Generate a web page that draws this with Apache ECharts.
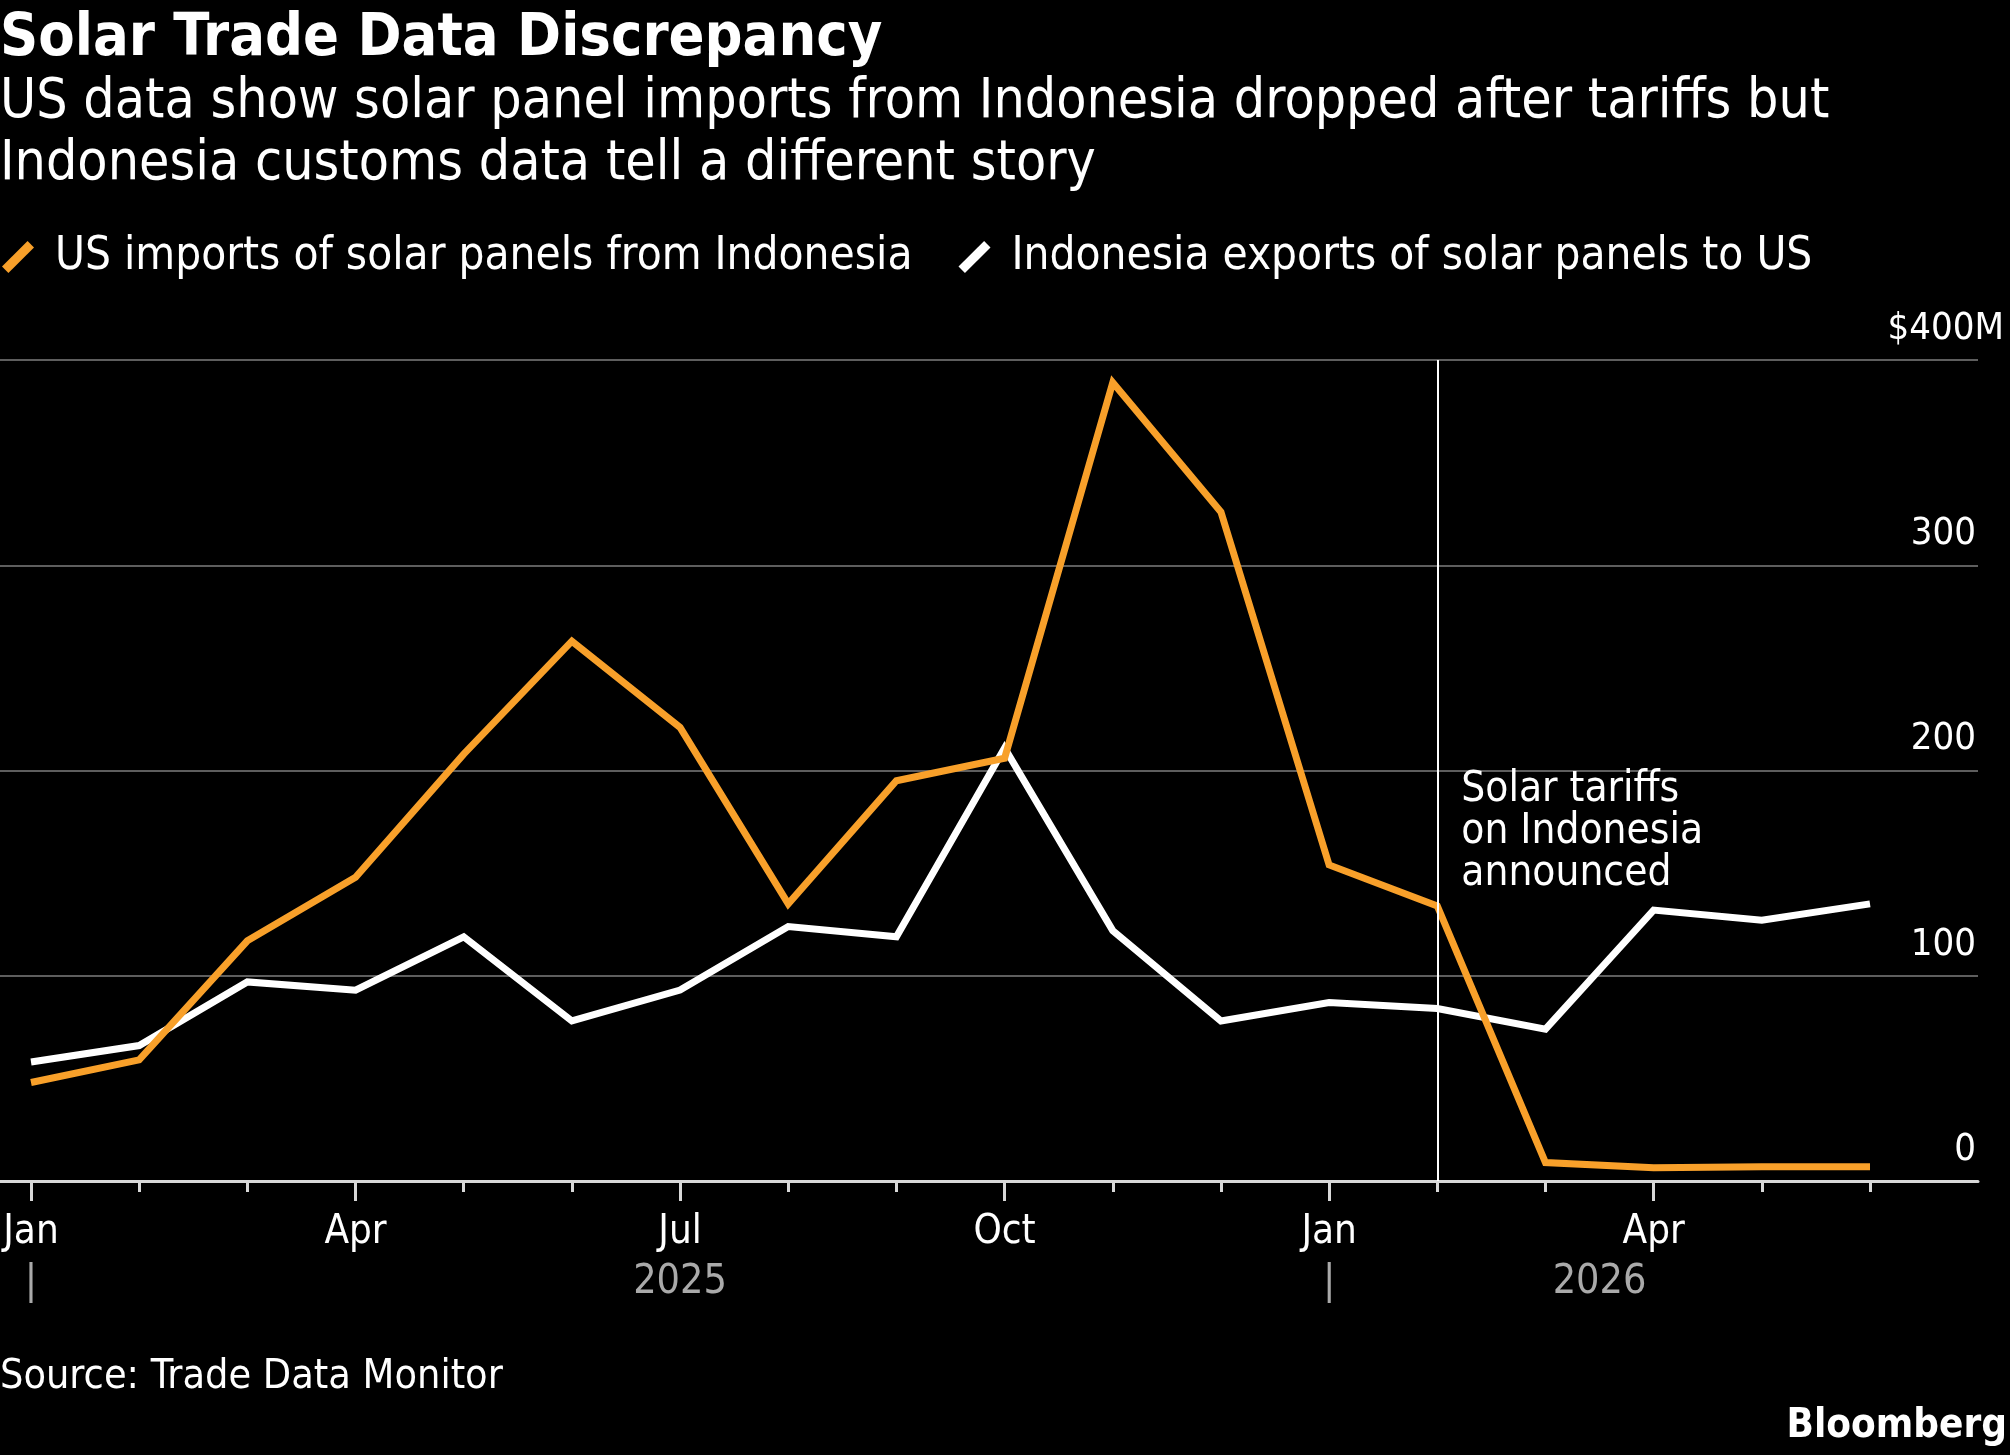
<!DOCTYPE html>
<html>
<head>
<meta charset="utf-8">
<script src="https://cdn.jsdelivr.net/npm/echarts@6/dist/echarts.min.js"></script>
<style>
  html, body { margin: 0; padding: 0; background: #000; }
  #chart { width: 2010px; height: 1455px; }
</style>
</head>
<body>
<div id="chart"></div>
<script>
// monthly data, Jan 2025 - Jun 2026 ($M)
const months = [
  '2025-01', '2025-02', '2025-03', '2025-04', '2025-05', '2025-06',
  '2025-07', '2025-08', '2025-09', '2025-10', '2025-11', '2025-12',
  '2026-01', '2026-02', '2026-03', '2026-04', '2026-05', '2026-06'
];
const usImports = [48, 59, 117, 148, 208, 263, 221, 135, 195, 206, 389, 326, 154, 134, 9, 6.5, 7, 7];
const idExports = [58, 66, 97, 93, 119, 78, 93, 124, 119, 211, 122, 78, 87, 84, 74, 132, 127, 135];

const monthNames = ['Jan', 'Feb', 'Mar', 'Apr', 'May', 'Jun', 'Jul', 'Aug', 'Sep', 'Oct', 'Nov', 'Dec'];
const quarterLabels = ['Jan', 'Apr', 'Jul', 'Oct'];
// second row under the month labels, keyed by position on the month index
const yearLabels = { 0: '|', 6: '2025', 12: '|', 14.5: '2026' };
const yTicks = [0, 100, 200, 300, 400];

const tariffMonth = '2026-02';
const tariffNote = 'Solar tariffs\non Indonesia\nannounced';
const tariffNoteY = 170;

const FONT = 'DejaVu Sans Condensed';
const ORANGE = '#f8a02a';
const WHITE = '#ffffff';

const chart = echarts.init(document.getElementById('chart'));

const slash = 'path://M2,26 L26,2 L32,8 L8,32 Z';

const option = {
  backgroundColor: '#000',
  animation: false,
  textStyle: { fontFamily: FONT },
  title: [
    {
      text: 'Solar Trade Data Discrepancy',
      left: 0, top: 10, padding: 0,
      textStyle: { color: '#fff', fontFamily: FONT, fontWeight: 'bold', fontSize: 59 }
    },
    {
      text: 'US data show solar panel imports from Indonesia dropped after tariffs but\nIndonesia customs data tell a different story',
      left: 0, top: 72, padding: 0,
      textStyle: { color: '#fff', fontFamily: FONT, fontWeight: 'normal', fontSize: 55, lineHeight: 62 }
    },
    {
      text: 'Source: Trade Data Monitor',
      left: 0, top: 1357, padding: 0,
      textStyle: { color: '#fff', fontFamily: FONT, fontWeight: 'normal', fontSize: 41 }
    },
    {
      text: 'Bloomberg',
      right: 3, top: 1407, padding: 0,
      textStyle: { color: '#fff', fontFamily: FONT, fontWeight: 'bold', fontSize: 40 }
    }
  ],
  legend: {
    left: 2, top: 234, padding: 0,
    itemWidth: 32, itemHeight: 32, itemGap: 46,
    data: [
      { name: 'US imports of solar panels from Indonesia', icon: slash },
      { name: 'Indonesia exports of solar panels to US', icon: slash }
    ],
    textStyle: { color: '#fff', fontFamily: FONT, fontSize: 45.5, lineHeight: 46, padding: [0, 0, 0, 16] }
  },
  grid: [
    // full-width backdrop for gridlines, y labels and baseline
    { left: 0, right: 32, top: 360, bottom: 274, containLabel: false },
    // data area: Jan 2025 .. Jun 2026
    { left: 31, right: 140, top: 360, bottom: 274, containLabel: false }
  ],
  xAxis: [
    {
      gridIndex: 0, type: 'value', min: 0, max: 1, position: 'bottom',
      axisLine: { show: true, lineStyle: { color: '#d8d8d8', width: 3 } },
      axisTick: { show: false }, axisLabel: { show: false }, splitLine: { show: false }
    },
    {
      gridIndex: 1, type: 'category', data: months, boundaryGap: false, position: 'bottom', offset: 0,
      axisLine: { show: false },
      axisTick: { show: true, interval: 0, length: 11, lineStyle: { color: '#d8d8d8', width: 3 } },
      axisLabel: {
        interval: 0, margin: 32, color: '#fff', fontFamily: FONT, fontSize: 40,
        formatter: function (v) {
          const m = monthNames[parseInt(v.slice(5), 10) - 1];
          return quarterLabels.indexOf(m) >= 0 ? m : '';
        }
      },
      splitLine: { show: false }
    },
    {
      gridIndex: 1, type: 'category', data: months, boundaryGap: false, position: 'bottom', offset: 0,
      axisLine: { show: false },
      axisTick: {
        show: true, length: 20, lineStyle: { color: '#d8d8d8', width: 3 },
        interval: function (i) { return i % 3 === 0; }
      },
      axisLabel: { show: false }, splitLine: { show: false }
    },
    {
      gridIndex: 1, type: 'value', min: 0, max: months.length - 1, interval: 0.5,
      position: 'bottom', offset: 0,
      axisLine: { show: false }, axisTick: { show: false }, splitLine: { show: false },
      axisLabel: {
        margin: 81, color: '#aaaaaa', fontFamily: FONT, fontSize: 41,
        showMinLabel: true, showMaxLabel: true,
        formatter: function (v) { return yearLabels[v] !== undefined ? yearLabels[v] : ''; }
      }
    }
  ],
  yAxis: [
    {
      gridIndex: 0, type: 'value', position: 'right', min: 0, max: 400, interval: 100,
      axisLine: { show: false }, axisTick: { show: false },
      splitLine: { show: true, lineStyle: { color: '#5e5e5e', width: 2 } },
      axisLabel: {
        inside: true, margin: 2, color: '#fff', fontFamily: FONT, fontSize: 38,
        verticalAlign: 'bottom', padding: [0, 0, 12, 0],
        formatter: function (v) {
          if (yTicks.indexOf(v) < 0) return '';
          // the unit hangs past the right edge of the numbers
          return v === 400 ? '{top|$400M}' : String(v);
        },
        rich: {
          top: { color: '#fff', fontFamily: FONT, fontSize: 38, padding: [0, -28, 0, 0] }
        }
      }
    },
    {
      gridIndex: 1, type: 'value', min: 0, max: 400, interval: 100, show: false,
      splitLine: { show: false }
    }
  ],
  series: [
    {
      name: 'US imports of solar panels from Indonesia',
      type: 'line', xAxisIndex: 1, yAxisIndex: 1, z: 4,
      data: usImports, symbol: 'none',
      lineStyle: { color: ORANGE, width: 7, join: 'miter' },
      itemStyle: { color: ORANGE },
      markLine: {
        silent: true, symbol: 'none',
        lineStyle: { color: '#fff', width: 2, type: 'solid' },
        label: { show: false },
        data: [{ xAxis: tariffMonth }]
      },
      markPoint: {
        silent: true, symbol: 'circle', symbolSize: 0,
        label: {
          show: true, position: 'right', distance: 24,
          color: '#fff', fontFamily: FONT, fontSize: 42, lineHeight: 42, align: 'left',
          formatter: tariffNote
        },
        data: [{ coord: [tariffMonth, tariffNoteY] }]
      }
    },
    {
      name: 'Indonesia exports of solar panels to US',
      type: 'line', xAxisIndex: 1, yAxisIndex: 1, z: 3,
      data: idExports, symbol: 'none',
      lineStyle: { color: WHITE, width: 7, join: 'miter' },
      itemStyle: { color: WHITE }
    }
  ]
};

chart.setOption(option);
</script>
</body>
</html>
